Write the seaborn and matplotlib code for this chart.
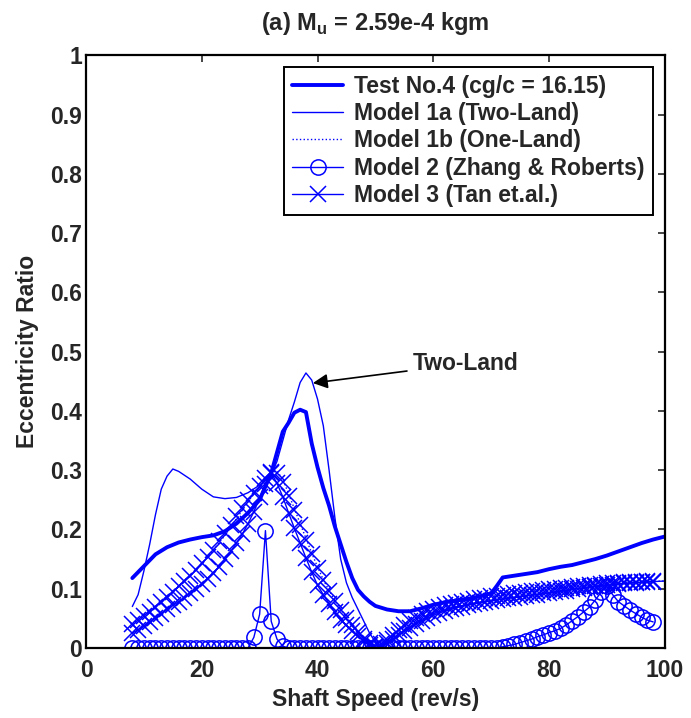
import numpy as np
import pandas as pd
import matplotlib
matplotlib.use('Agg')
import matplotlib.pyplot as plt
import seaborn as sns

# speeds where the model markers sit (rev/s)
speed = list(range(8, 99))

# Test No.4 (measured)
test_x = [8, 10, 12, 14, 16, 18, 20, 22, 24, 26, 28, 30, 32, 33, 34, 35, 36, 37, 38, 39,
          40, 41, 42, 43, 44, 45, 46, 47, 48, 49, 50, 52, 54, 56, 58, 60, 62, 64, 66, 68,
          70, 71, 72, 74, 76, 78, 80, 82, 84, 86, 88, 90, 92, 94, 96, 98, 100]
test_y = [0.118, 0.138, 0.158, 0.170, 0.178, 0.183, 0.187, 0.190, 0.197, 0.210,
          0.228, 0.250, 0.295, 0.330, 0.365, 0.380, 0.397, 0.402, 0.398, 0.345,
          0.305, 0.270, 0.240, 0.205, 0.175, 0.145, 0.118, 0.098, 0.087, 0.078,
          0.071, 0.065, 0.062, 0.062, 0.067, 0.073, 0.077, 0.080, 0.083, 0.087,
          0.092, 0.105, 0.119, 0.122, 0.125, 0.128, 0.133, 0.137, 0.140, 0.145,
          0.150, 0.156, 0.163, 0.170, 0.177, 0.183, 0.188]

# Model 1a (Two-Land)
m1a_x = [8, 9, 10, 11, 12, 13, 14, 15, 16, 18, 20, 22, 24, 26, 28, 30, 31, 32, 33, 34,
         35, 36, 37, 38, 39, 40, 41, 42, 43, 44, 45, 46, 47, 48, 49, 50, 51, 52, 54, 56,
         58, 60, 64, 68, 72, 76, 80, 84, 88, 92, 96, 100]
m1a_y = [0.070, 0.090, 0.130, 0.175, 0.225, 0.268, 0.290, 0.302, 0.298, 0.285,
         0.268, 0.255, 0.252, 0.254, 0.262, 0.275, 0.283, 0.292, 0.315, 0.350,
         0.385, 0.415, 0.448, 0.464, 0.452, 0.420, 0.375, 0.300, 0.220, 0.150,
         0.110, 0.085, 0.065, 0.045, 0.025, 0.010, 0.003, 0.008, 0.022, 0.036,
         0.048, 0.058, 0.070, 0.077, 0.083, 0.088, 0.093, 0.099, 0.104, 0.108,
         0.111, 0.113]

# Model 1b (One-Land)
m1b_x = [8, 10, 12, 14, 16, 18, 20, 22, 24, 26, 28, 30, 31, 32, 33, 34, 35, 36, 37, 38,
         39, 40, 41, 42, 43, 44, 45, 46, 47, 48, 49, 50, 51, 52, 54, 56, 58, 60, 64, 68,
         72, 76, 80, 84, 88, 92, 96, 100]
m1b_y = [0.040, 0.055, 0.070, 0.087, 0.105, 0.122, 0.142, 0.165, 0.190, 0.218,
         0.247, 0.272, 0.285, 0.297, 0.298, 0.285, 0.260, 0.235, 0.210, 0.185,
         0.160, 0.137, 0.115, 0.097, 0.080, 0.065, 0.052, 0.040, 0.028, 0.017,
         0.008, 0.003, 0.005, 0.013, 0.030, 0.045, 0.057, 0.066, 0.077, 0.084,
         0.090, 0.095, 0.099, 0.103, 0.107, 0.110, 0.112, 0.113]

# Model 2 (Zhang & Roberts), one value per speed 8..98
m2_y = [0.0] * 21 + [0.018, 0.057, 0.198, 0.045, 0.015, 0.003] + [0.0] * 37 + \
       [0.002, 0.004, 0.006, 0.009, 0.012, 0.015, 0.019, 0.022, 0.026, 0.029,
        0.033, 0.039, 0.046, 0.053, 0.061, 0.069, 0.081, 0.094, 0.104, 0.090,
        0.078, 0.071, 0.064, 0.058, 0.052, 0.047, 0.044]

# Model 3 (Tan et.al.), two-land and one-land runs, speeds 8..98
m3_two = [0.025, 0.031, 0.037, 0.044, 0.051, 0.058, 0.065, 0.072, 0.078, 0.085,
          0.092, 0.100, 0.108, 0.117, 0.127, 0.137, 0.150, 0.163, 0.177, 0.192,
          0.210, 0.230, 0.254, 0.276, 0.295, 0.278, 0.255, 0.228, 0.202, 0.177,
          0.152, 0.128, 0.106, 0.090, 0.075, 0.060, 0.048, 0.038, 0.029, 0.020,
          0.012, 0.005, 0.001, 0.002, 0.008, 0.015, 0.022, 0.028, 0.034, 0.040,
          0.045, 0.050, 0.055, 0.059, 0.062, 0.065, 0.068, 0.070, 0.072, 0.074,
          0.076, 0.078, 0.079, 0.081, 0.082, 0.084, 0.085, 0.086, 0.088, 0.089,
          0.090, 0.092, 0.093, 0.094, 0.096, 0.097, 0.099, 0.100, 0.101, 0.103,
          0.104, 0.105, 0.106, 0.107, 0.108, 0.109, 0.110, 0.110, 0.111, 0.111,
          0.112]
m3_one = [0.040, 0.047, 0.054, 0.061, 0.069, 0.077, 0.086, 0.095, 0.104, 0.113,
          0.122, 0.132, 0.143, 0.154, 0.166, 0.180, 0.194, 0.208, 0.222, 0.236,
          0.250, 0.262, 0.274, 0.286, 0.297, 0.296, 0.280, 0.257, 0.232, 0.207,
          0.182, 0.158, 0.135, 0.114, 0.096, 0.079, 0.064, 0.051, 0.039, 0.027,
          0.016, 0.008, 0.003, 0.006, 0.014, 0.022, 0.030, 0.038, 0.045, 0.051,
          0.057, 0.062, 0.066, 0.069, 0.072, 0.074, 0.076, 0.078, 0.080, 0.082,
          0.084, 0.085, 0.087, 0.088, 0.090, 0.091, 0.092, 0.093, 0.095, 0.096,
          0.097, 0.098, 0.099, 0.100, 0.101, 0.102, 0.103, 0.104, 0.105, 0.106,
          0.107, 0.108, 0.109, 0.110, 0.110, 0.111, 0.111, 0.112, 0.112, 0.113,
          0.113]

sns.set_style('white')
plt.rcParams['font.family'] = ['Liberation Sans', 'DejaVu Sans']
plt.rcParams['font.weight'] = 'bold'
plt.rcParams['mathtext.fontset'] = 'custom'
plt.rcParams['mathtext.rm'] = 'Liberation Sans:bold'
plt.rcParams['mathtext.bf'] = 'Liberation Sans:bold'

blue = '#0000ff'
fs = 16.5
fig = plt.figure(figsize=(6.91, 7.18), dpi=100)
ax = fig.add_axes([0.1245, 0.0975, 0.8375, 0.8255])

sns.lineplot(x=test_x, y=test_y, ax=ax, color=blue, linewidth=2.8,
             label='Test No.4 (cg/c = 16.15)')
sns.lineplot(x=m1a_x, y=m1a_y, ax=ax, color=blue, linewidth=1.0,
             label='Model 1a (Two-Land)')
sns.lineplot(x=m1b_x, y=m1b_y, ax=ax, color=blue, linewidth=1.0, linestyle=':',
             label='Model 1b (One-Land)')
sns.lineplot(x=speed, y=m2_y, ax=ax, color=blue, linewidth=1.0, marker='o',
             markersize=11, markerfacecolor='none', markeredgecolor=blue,
             markeredgewidth=1.1, label='Model 2 (Zhang & Roberts)')
sns.lineplot(x=speed, y=m3_two, ax=ax, color=blue, linewidth=1.0, marker='x',
             markersize=12, markeredgecolor=blue, markeredgewidth=1.1,
             label='Model 3 (Tan et.al.)')
sns.lineplot(x=speed, y=m3_one, ax=ax, color=blue, linewidth=0, marker='x',
             markersize=12, markeredgecolor=blue, markeredgewidth=1.1,
             label='_nolegend_')

ax.set_xlim(0, 100)
ax.set_ylim(0, 1)
ax.set_xticks([0, 20, 40, 60, 80, 100])
ax.set_yticks(np.arange(0, 1.01, 0.1))
ax.set_yticklabels(['0', '0.1', '0.2', '0.3', '0.4', '0.5', '0.6', '0.7', '0.8', '0.9', '1'])
ax.tick_params(direction='in', top=True, right=True, length=5, width=1.2,
               labelsize=fs)
ax.tick_params(axis='x', pad=8)
ax.tick_params(axis='y', pad=3)
for s in ax.spines.values():
    s.set_linewidth(1.6)
    s.set_color('black')

ax.set_xlabel('Shaft Speed (rev/s)', fontsize=fs, fontweight='bold', labelpad=4)
ax.set_ylabel('Eccentricity Ratio', fontsize=fs, fontweight='bold', labelpad=8)
ax.set_title(r'(a) M$_{\mathrm{u}}$ = 2.59e-4 kgm', fontsize=17, fontweight='bold', pad=18)

ax.annotate('Two-Land', xy=(39.2, 0.447), xytext=(56.5, 0.48),
            fontsize=fs, fontweight='bold', va='center', ha='left',
            arrowprops=dict(arrowstyle='-|>', color='black', lw=1.2,
                            mutation_scale=22, shrinkA=2, shrinkB=0))

leg = ax.legend(loc='upper right', fontsize=fs, frameon=True, fancybox=False,
                edgecolor='black', framealpha=1, handlelength=2.2,
                labelspacing=0.18, borderpad=0.35, borderaxespad=0.52,
                handletextpad=0.5)
leg.get_frame().set_linewidth(1.4)

fig.savefig('out.png', dpi=100)
